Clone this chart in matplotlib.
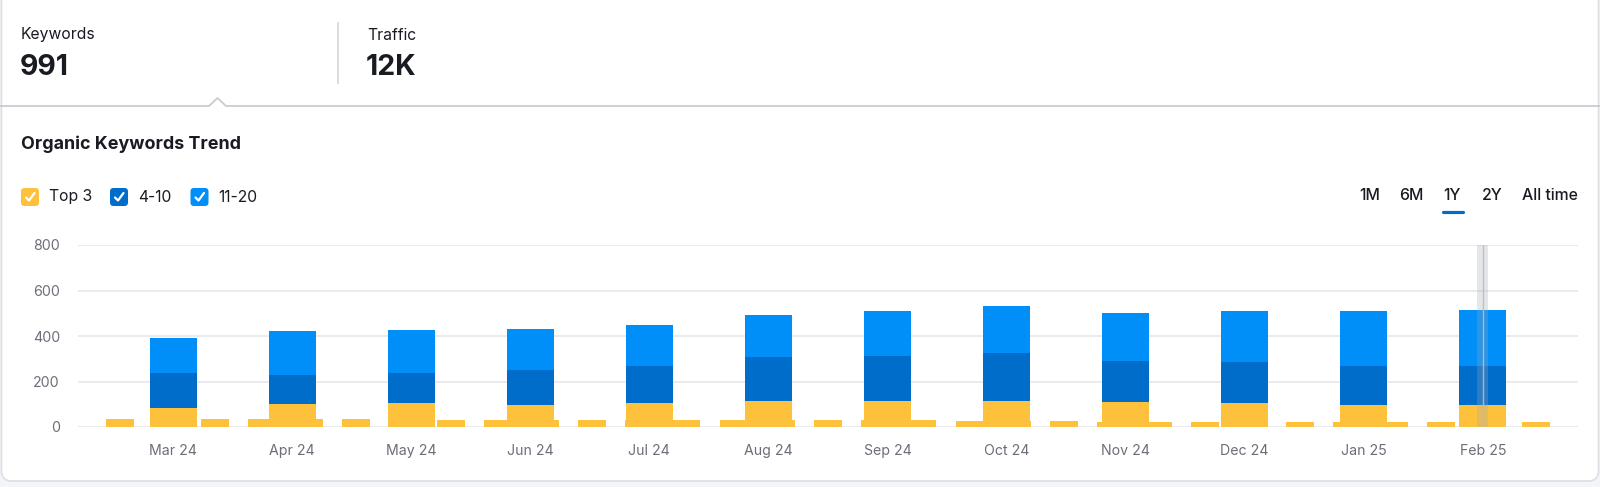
import matplotlib.pyplot as plt
import matplotlib.patches as patches
import numpy as np

plt.rcParams['font.family'] = ['Inter', 'DejaVu Sans']

# monthly stacked values
months = ["Mar 24", "Apr 24", "May 24", "Jun 24", "Jul 24", "Aug 24",
          "Sep 24", "Oct 24", "Nov 24", "Dec 24", "Jan 25", "Feb 25"]
top3 = [85, 100, 105, 95, 104, 113, 113, 114, 112, 107, 97, 97]
pos_4_10 = [154, 130, 131, 155, 164, 196, 201, 211, 179, 177, 171, 172]
pos_11_20 = [151, 190, 189, 181, 180, 182, 197, 207, 209, 228, 241, 244]

# the small yellow bars between the months
minor_top3 = [37, 35, 34, 34, 34, 35, 33, 32, 32, 32, 32, 31, 31, 30, 30, 30,
              29, 29, 27, 26, 25, 24, 23, 23, 23, 23, 22, 22, 22, 22, 23]

header_labels = ["Keywords", "Traffic"]
header_values = ["991", "12K"]
legend_labels = ["Top 3", "4-10", "11-20"]
periods = ["1M", "6M", "1Y", "2Y", "All time"]

YELLOW = "#FDC13C"
DARK = "#006DCA"
LIGHT = "#008FF8"
TXT = "#191B23"
GREY = "#6C6E79"

W, H = 1600, 487
fig = plt.figure(figsize=(W / 100, H / 100), dpi=100)
fig.patch.set_facecolor("#F4F5F8")

# overlay in pixel coordinates for the card decoration
bg = fig.add_axes([0, 0, 1, 1])
bg.set_xlim(0, W)
bg.set_ylim(H, 0)
bg.axis("off")

card = patches.FancyBboxPatch((1.5, -10), W - 3, 491, boxstyle="round,pad=0,rounding_size=10",
                              facecolor="white", edgecolor="#DCDEE3", linewidth=1.2)
bg.add_patch(card)

# header
for i, (lab, val) in enumerate(zip(header_labels, header_values)):
    x0 = 21 + i * 346
    bg.text(x0, 35, lab, fontsize=11.3, color=TXT, va="center", ha="left")
    bg.text(x0 - 1, 67.5, val, fontsize=20.5, fontweight="bold", color=TXT, va="center", ha="left")
bg.plot([338, 338], [23, 83], color="#D3D5DA", lw=1.2)

# separator with a little notch under the active tab
bg.plot([0, 209, 217.5, 226, W], [106, 106, 98, 106, 106], color="#C9CBD1", lw=1.3)

bg.text(21, 144.5, "Organic Keywords Trend", fontsize=12.9, fontweight="bold",
        color=TXT, va="center", ha="left")

# legend checkboxes
box_x = [21, 110, 190.5]
for bx, lab, col in zip(box_x, legend_labels, [YELLOW, DARK, LIGHT]):
    bg.add_patch(patches.FancyBboxPatch((bx, 188), 18, 18,
                                        boxstyle="round,pad=0,rounding_size=3.5",
                                        facecolor=col, edgecolor="none"))
    bg.plot([bx + 5, bx + 8, bx + 13.5], [197.5, 200.5, 193], color="white",
            lw=1.6, solid_capstyle="round", solid_joinstyle="round")
    bg.text(bx + 28, 197, lab, fontsize=11.3, color=TXT, va="center", ha="left")

# period switcher
period_x = [1359, 1399, 1443, 1482, 1522]
for px, lab in zip(period_x, periods):
    bg.text(px, 196, lab, fontsize=11.4, fontweight="medium", color=TXT,
            va="center", ha="left")
bg.plot([1442.5, 1463], [211.5, 211.5], color=DARK, lw=2.3, solid_capstyle="round")

# chart
ax = fig.add_axes([78 / W, (H - 427) / H, 1500 / W, 182 / H])
ax.patch.set_alpha(0)
x = np.arange(len(months))
bottom2 = np.array(top3)
bottom3 = bottom2 + np.array(pos_4_10)

minor_x = np.linspace(-0.444, len(months) - 1 + 0.444, len(minor_top3))
ax.bar(minor_x, minor_top3, width=0.235, color=YELLOW, zorder=2)

ax.bar(x, top3, width=0.395, color=YELLOW, zorder=3)
ax.bar(x, pos_4_10, width=0.395, bottom=bottom2, color=DARK, zorder=3)
ax.bar(x, pos_11_20, width=0.395, bottom=bottom3, color=LIGHT, zorder=3)

# hover marker on the last month
ax.axvspan(x[-1] - 0.047, x[-1] + 0.047, color="#A3A8B0", alpha=0.28, lw=0, zorder=5)
ax.axvline(x[-1], color="#B8BCC2", lw=1.0, alpha=0.9, zorder=6)

ax.set_xlim(-0.80, 11.80)
ax.set_ylim(0, 800)
ax.set_yticks(range(0, 801, 200))
ax.set_xticks(x)
ax.set_xticklabels(months)
ax.yaxis.grid(True, color="#E4E5EA", lw=1.1, zorder=0)
ax.set_axisbelow(True)
for s in ax.spines.values():
    s.set_visible(False)
ax.tick_params(axis="both", length=0, labelsize=10.2, labelcolor=GREY)
ax.tick_params(axis="y", pad=13)
ax.tick_params(axis="x", pad=12)

fig.savefig("out.png", dpi=100, facecolor=fig.get_facecolor())
